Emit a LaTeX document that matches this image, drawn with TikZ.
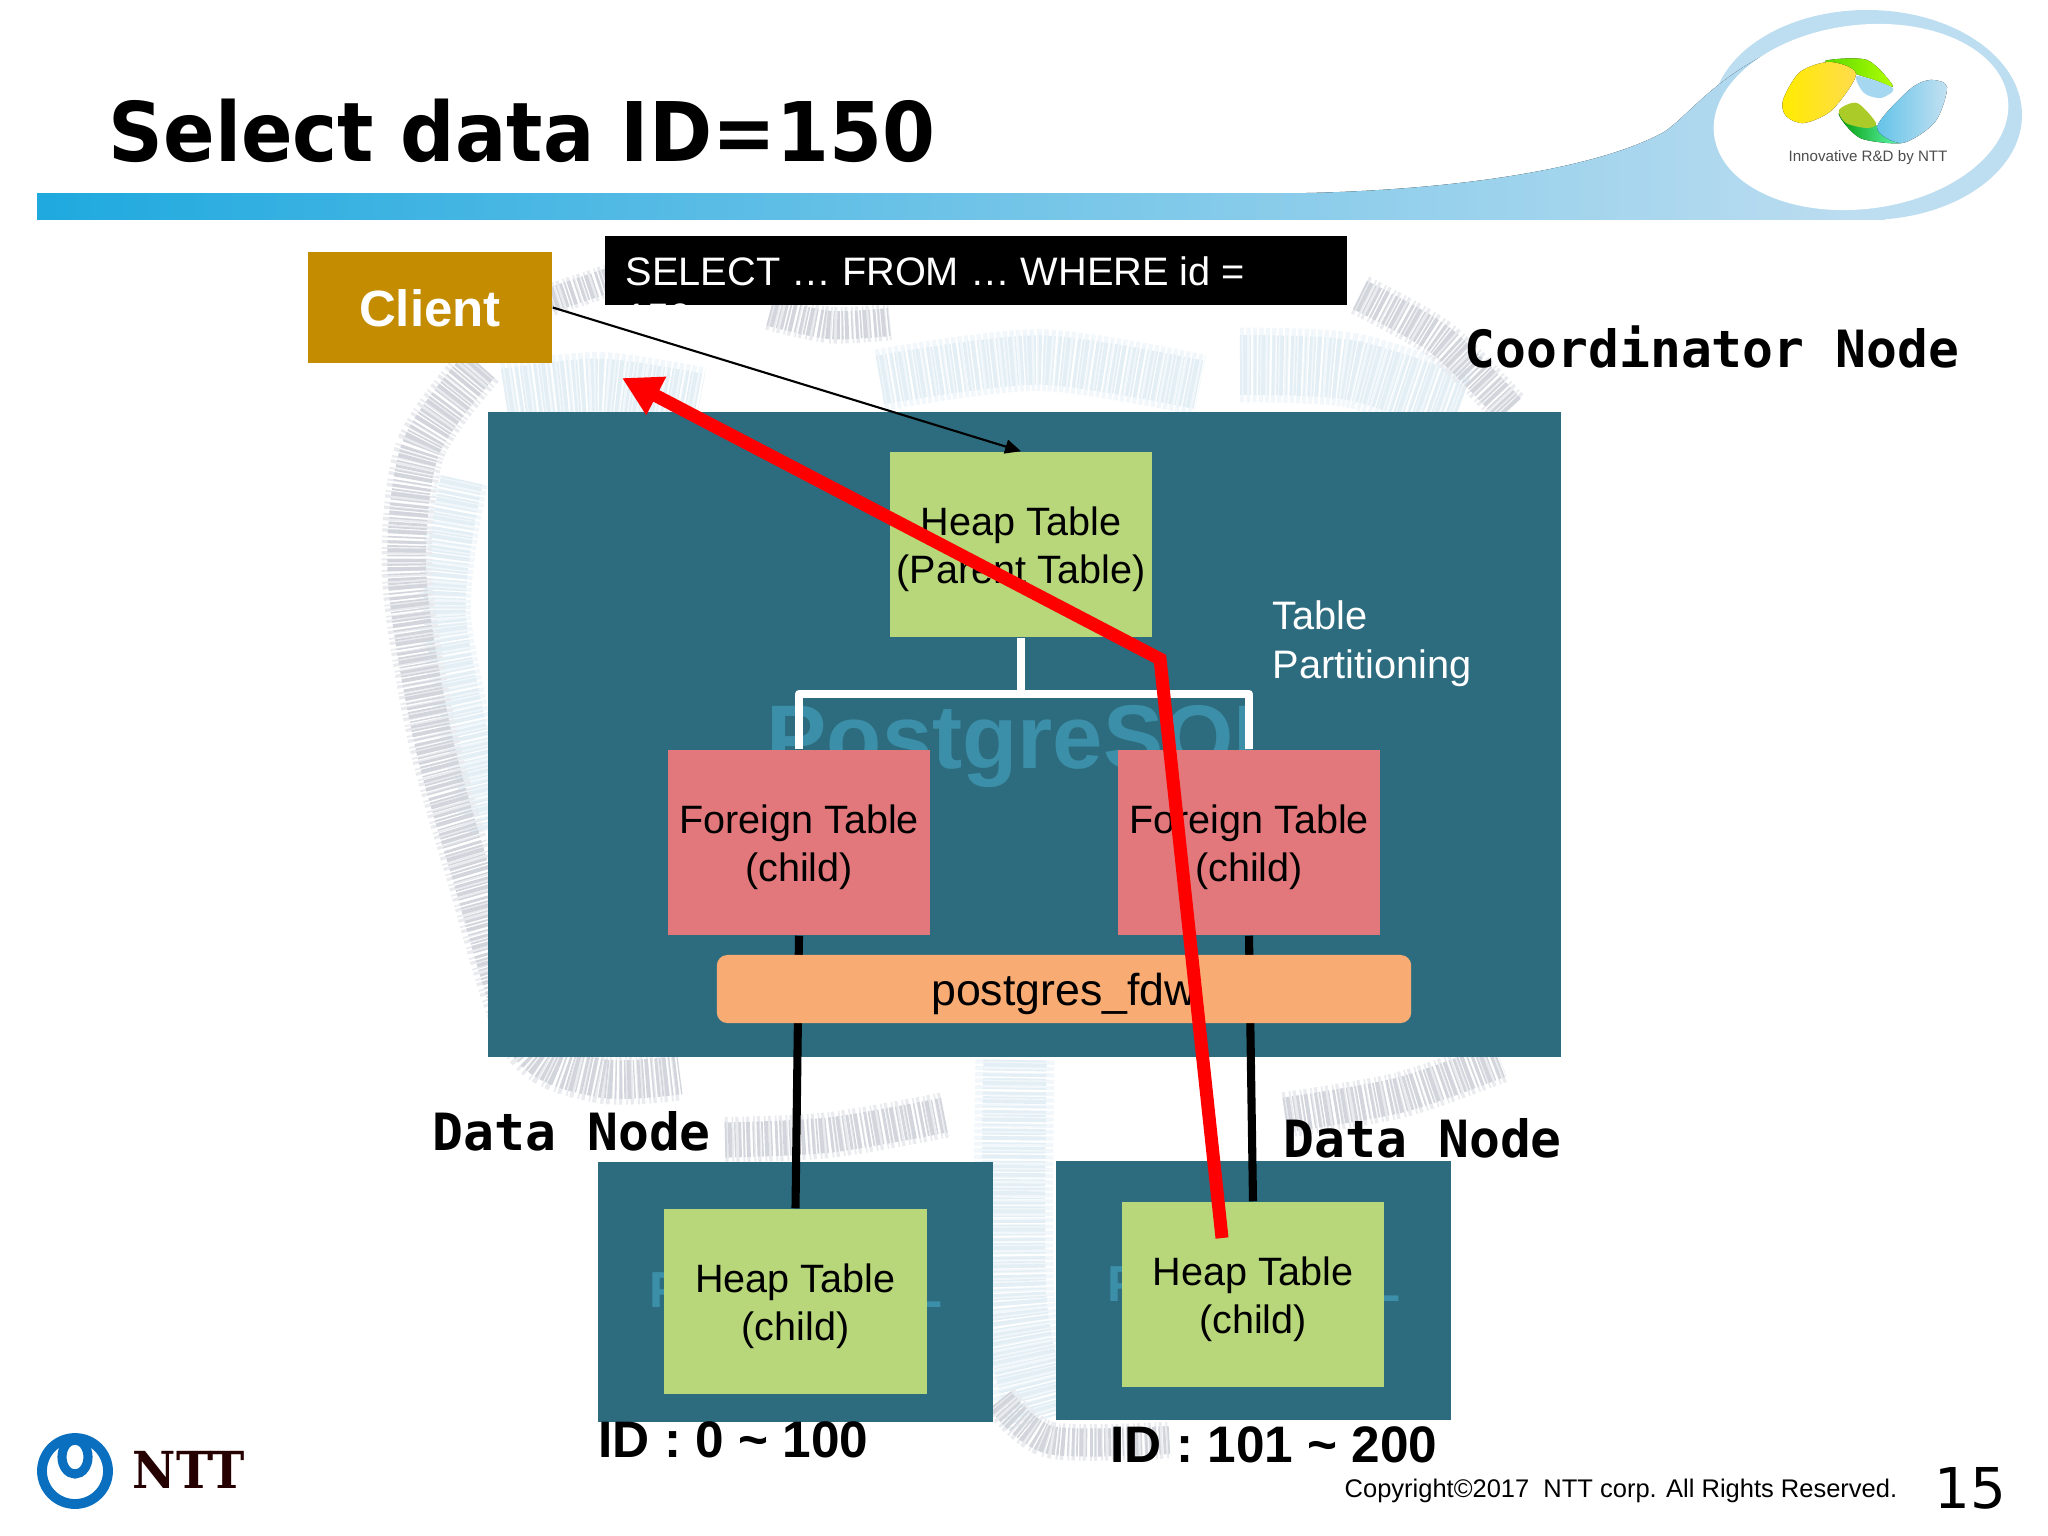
\documentclass[tikz,border=0pt]{standalone}
\usepackage{fontspec}
\setmainfont{Liberation Sans}
\newfontfamily\titlefont[FakeStretch=0.925]{DejaVu Sans}
\newfontfamily\pagefont{DejaVu Sans}
\newfontfamily\labelfont{DejaVu Sans Mono}
\newfontfamily\nttfont[FakeStretch=0.93]{DejaVu Serif}
\usetikzlibrary{arrows.meta}

\definecolor{nodeTeal}{HTML}{2D6C7F}
\definecolor{heapGreen}{HTML}{B8D67A}
\definecolor{foreignPink}{HTML}{E2787B}
\definecolor{fdwOrange}{HTML}{F8AC74}
\definecolor{clientGold}{HTML}{C48C00}
\definecolor{elephantText}{HTML}{3C8FA8}
\definecolor{bandLeft}{HTML}{1FA9DF}
\definecolor{bandRight}{HTML}{BDDDF0}
\definecolor{nttBlue}{HTML}{0A6FBE}
\definecolor{hatchGray}{HTML}{D2D5DB}
\definecolor{hatchPale}{HTML}{E9EBEF}
\definecolor{hatchBlue}{HTML}{E3EFF5}
\definecolor{hatchBluePale}{HTML}{F1F7FA}
\definecolor{logoSky}{HTML}{A5D8F0}

\newcommand{\dropline}{\rule{0pt}{10.9pt}}

\tikzset{
	box/.style={rectangle,inner sep=0pt,align=center,font=\fontsize{11.25pt}{13.6pt}\selectfont},
	heapbox/.style={box,fill=heapGreen,minimum width=2.62cm,minimum height=1.85cm},
	foreignbox/.style={box,fill=foreignPink,minimum width=2.62cm,minimum height=1.85cm},
	nodearea/.style={box,fill=nodeTeal},
	tagtext/.style={inner sep=0pt,anchor=base west,font=\labelfont\bfseries\fontsize{14.6pt}{16pt}\selectfont},
	rangetext/.style={inner sep=0pt,anchor=base west,font=\bfseries\fontsize{14.6pt}{16pt}\selectfont},
	hatchline/.style={line width=#1,dash pattern=on 0.5pt off 0.4pt on 1.1pt off 0.7pt on 0.4pt off 0.8pt on 0.8pt off 0.5pt,line cap=butt},
	grayhatch/.style={preaction={draw,hatchPale,line width=1.3*#1,dash pattern=on 0.9pt off 1.1pt on 0.5pt off 0.6pt},hatchGray,hatchline=#1},
	bluehatch/.style={preaction={draw,hatchBluePale,line width=1.25*#1,dash pattern=on 1.2pt off 0.6pt},hatchBlue,hatchline=#1},
	treeline/.style={white,line width=2.3pt,line join=round},
	wireline/.style={black,line width=2.3pt},
}

\begin{document}
\begin{tikzpicture}[x=0.01cm,y=-0.01cm]
	\useasboundingbox (0,0) rectangle (2048,1536);

	% header band and swoosh
	\fill[bandRight] (1867,115) ellipse [x radius=155,y radius=105];
	\fill[left color=bandLeft,right color=bandRight] (37,193) -- (1306,193) .. controls (1450,190) and (1595,170) .. (1664,132) .. controls (1695,112) and (1735,45) .. (1860,25) -- (1880,220) -- (37,220) -- cycle;
	\fill[bandRight] (1840,200) rectangle (1885,220);
	\fill[white] (0,220) rectangle (2048,240);
	\fill[white,rotate around={7:(1861,117)}] (1861,117) ellipse [x radius=148,y radius=92];

	% logo
	\fill[left color=green!60!yellow!85!black,right color=yellow!70!green] plot[smooth cycle] coordinates {(1825,61) (1867,60) (1893,86) (1875,80) (1850,72)};
	\fill[left color=yellow!85!orange,right color=yellow!60!orange!70] plot[smooth cycle] coordinates {(1783,100) (1800,72) (1830,62) (1856,74) (1832,110) (1804,123) (1786,116)};
	\fill[logoSky] plot[smooth cycle] coordinates {(1857,76) (1893,88) (1881,98) (1864,93)};
	\fill[left color=green!60!black,right color=green!40!cyan!60] plot[smooth cycle] coordinates {(1839,113) (1860,138) (1902,143) (1879,127)};
	\fill[left color=bandLeft!70,right color=bandRight!90] plot[smooth cycle] coordinates {(1947,87) (1930,80) (1909,90) (1877,127) (1902,143) (1935,122)};
	\fill[yellow!70!green!90!black] plot[smooth cycle] coordinates {(1839,110) (1857,103) (1876,123) (1867,128) (1846,123)};
	\node[inner sep=0pt,text=black!70,font=\fontsize{4.3pt}{5pt}\selectfont] (tagline) at (1868,158) {Innovative R\&D by NTT};

	\node[inner sep=0pt,anchor=base west,font=\titlefont\bfseries\fontsize{23.4pt}{26pt}\selectfont] (title) at (108,161) {Select data ID=150};

	% elephant behind everything
	\draw[bluehatch=15pt] plot[smooth] coordinates {(505,395) (600,385) (700,400)};
	\draw[bluehatch=14pt] plot[smooth] coordinates {(880,380) (1040,360) (1200,385)};
	\draw[bluehatch=17pt] plot[smooth] coordinates {(1240,365) (1350,370) (1460,405)};
	\draw[bluehatch=12pt] plot[smooth] coordinates {(462,480) (445,620) (490,830)};
	\draw[bluehatch=18pt] plot[smooth] coordinates {(1015,1060) (1015,1300) (1040,1420)};
	\draw[grayhatch=11pt] plot[smooth] coordinates {(480,365) (420,450) (407,575) (432,734) (470,870) (525,1040) (600,1078) (680,1075)};
	\draw[grayhatch=10pt] plot[smooth] coordinates {(725,1140) (830,1135) (945,1115)};
	\draw[grayhatch=10pt] plot[smooth] coordinates {(1285,1115) (1400,1095) (1500,1060)};
	\draw[grayhatch=8pt] plot[smooth] coordinates {(1000,1400) (1050,1440) (1170,1440)};
	\draw[grayhatch=7pt] (550,300) -- (610,280);
	\draw[grayhatch=8pt] plot[smooth] coordinates {(770,312) (830,325) (890,322)};
	\draw[grayhatch=9pt] plot[smooth] coordinates {(1360,295) (1440,340) (1510,410)};

	% coordinator area
	\node[nodearea,minimum width=10.73cm,minimum height=6.45cm] (coordinator) at (1024.5,734.5) {};
	\node[inner sep=0pt,text=elephantText,font=\bfseries\fontsize{25.7pt}{28pt}\selectfont,anchor=base west] (pgbig) at (766,768) {PostgreSQL};

	% data node areas
	\node[nodearea,minimum width=3.95cm,minimum height=2.6cm] (dataL) at (795.5,1292) {};
	\node[nodearea,minimum width=3.95cm,minimum height=2.59cm] (dataR) at (1253.5,1290.5) {};
	\node[inner sep=0pt,text=elephantText,font=\bfseries\fontsize{14.4pt}{16pt}\selectfont] (pgL) at (796,1295) {PostgreSQL};
	\node[inner sep=0pt,text=elephantText,font=\bfseries\fontsize{14.4pt}{16pt}\selectfont] (pgR) at (1254,1289) {PostgreSQL};

	% tables
	\node[heapbox] (parent) at (1021,544.5) {\dropline Heap Table\\(Parent Table)};
	\node[foreignbox] (foreignL) at (799,842.5) {\dropline Foreign Table\\(child)};
	\node[foreignbox] (foreignR) at (1249,842.5) {\dropline Foreign Table\\(child)};
	\node[heapbox] (heapL) at (795.5,1301.5) {\dropline Heap Table\\(child)};
	\node[heapbox] (heapR) at (1253,1294.5) {\dropline Heap Table\\(child)};

	% partition tree
	\coordinate (fork) at (1021,694);
	\draw[treeline] (parent.south) -- (fork);
	\draw[treeline] (foreignL.north) |- (fork) -| (foreignR.north);
	\node[inner sep=0pt,text=white,align=left,anchor=base west,font=\fontsize{11.3pt}{13.7pt}\selectfont] (partition) at (1272,678) {Table\\Partitioning};

	% wires go under the fdw bar
	\draw[wireline] (foreignL.south) -- (heapL.north);
	\draw[wireline] (foreignR.south) -- (heapR.north);
	\node[box,fill=fdwOrange,rounded corners=3pt,minimum width=6.94cm,minimum height=0.68cm,font=\fontsize{12.7pt}{14pt}\selectfont] (fdw) at (1064,989) {\rule{0pt}{12.1pt}postgres\_fdw};

	% client and query
	\node[box,fill=clientGold,text=white,minimum width=2.44cm,minimum height=1.11cm,font=\bfseries\fontsize{14.5pt}{16pt}\selectfont] (client) at (430,307.5) {\rule{0pt}{11.2pt}Client};
	\node[box,fill=black,minimum width=7.42cm,minimum height=0.69cm] (querybox) at (976,270.5) {};
	\node[inner sep=0pt,text=white,align=left,anchor=base west,font=\fontsize{11.3pt}{13pt}\selectfont] (query) at (625,331) {SELECT … FROM … WHERE id =\\150};

	% labels
	\node[tagtext] (tagCoord) at (1464,367) {Coordinator Node};
	\node[tagtext] (tagDataL) at (432,1150) {Data Node};
	\node[tagtext] (tagDataR) at (1283,1157) {Data Node};
	\node[rangetext] (rangeL) at (598,1457) {ID : 0 \textasciitilde{} 100};
	\node[rangetext] (rangeR) at (1110,1462) {ID : 101 \textasciitilde{} 200};

	% request and reply
	\draw[line width=0.6pt,-{Triangle[length=4.5pt,width=4pt]}] (client.east) -- (parent.north);
	\coordinate (replyStart) at (1222,1238);
	\coordinate (replyKnee) at (1160,659);
	\coordinate (replyTip) at (622,378);
	\draw[red,line width=3.7pt,line join=miter,-{Triangle[length=11pt,width=11.5pt]}] (replyStart) -- (replyKnee) -- (replyTip);

	% footer
	\draw[nttBlue,line width=2.8pt] (75,1471) ellipse [x radius=33,y radius=33];
	\draw[nttBlue,line width=2.6pt] (75,1457) ellipse [x radius=13,y radius=17];
	\node[inner sep=0pt,anchor=base west,text=black!85!red,font=\nttfont\bfseries\fontsize{14.5pt}{16pt}\selectfont] (nttname) at (132,1488) {NTT};
	\node[inner sep=0pt,anchor=base west,font=\fontsize{7.25pt}{9pt}\selectfont] (copyright) at (1344,1497) {Copyright©2017\ \ NTT corp. All Rights Reserved.};
	\node[inner sep=0pt,anchor=base west,font=\pagefont\fontsize{16pt}{18pt}\selectfont] (pagenum) at (1934,1508) {15};
\end{tikzpicture}
\end{document}
